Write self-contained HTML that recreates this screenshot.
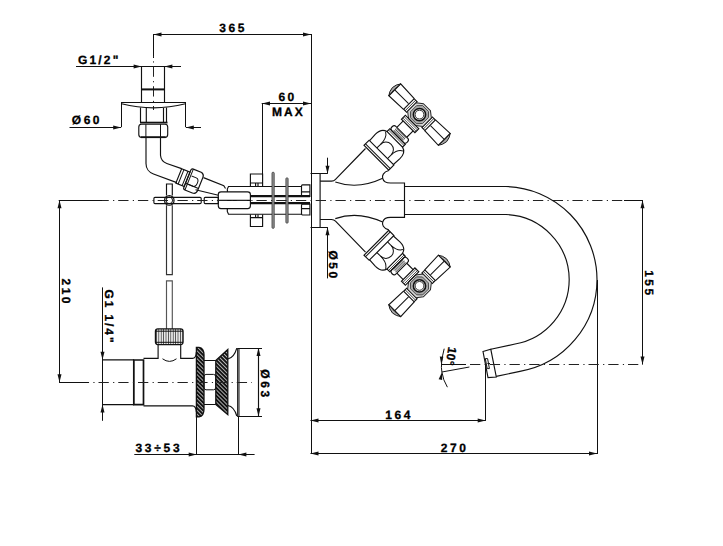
<!DOCTYPE html>
<html><head><meta charset="utf-8">
<style>
html,body{margin:0;padding:0;background:#fff;width:723px;height:546px;overflow:hidden}
svg{display:block}
text{font-family:"Liberation Sans",sans-serif;font-weight:bold;fill:#000;stroke:#000;stroke-width:0.3;text-rendering:geometricPrecision}
.dl{stroke:#111;stroke-width:1;fill:none}
.ol{stroke:#111;stroke-width:1.15;fill:none}
.cl{stroke:#222;stroke-width:1;fill:none;stroke-dasharray:10.3 4.3 1.2 3.95}
.ar{fill:#111;stroke:none}
</style></head><body>
<svg width="723" height="546" viewBox="0 0 723 546">
<line x1="153.5" y1="34.5" x2="311" y2="34.5" class="dl"/>
<path d="M153.50,34.50 L161.50,32.50 L161.50,36.50 Z" class="ar"/>
<path d="M311.00,34.50 L303.00,36.50 L303.00,32.50 Z" class="ar"/>
<line x1="153.5" y1="34" x2="153.5" y2="58" class="dl"/>
<line x1="311.5" y1="34" x2="311.5" y2="454" class="dl"/>
<text x="219.3" y="31.9" text-anchor="start" style="font-size:12px;letter-spacing:2.5px">365</text>
<line x1="261.7" y1="103.5" x2="311" y2="103.5" class="dl"/>
<path d="M262.00,103.50 L270.00,101.50 L270.00,105.50 Z" class="ar"/>
<path d="M311.00,103.50 L303.00,105.50 L303.00,101.50 Z" class="ar"/>
<line x1="262.5" y1="103.4" x2="262.5" y2="176" class="dl"/>
<text x="278.4" y="101.4" text-anchor="start" style="font-size:12px;letter-spacing:2.5px">60</text>
<text x="272" y="115.8" text-anchor="start" style="font-size:12px;letter-spacing:2.1px">MAX</text>
<line x1="76" y1="66.5" x2="181" y2="66.5" class="dl"/>
<path d="M141.60,66.50 L133.60,68.50 L133.60,64.50 Z" class="ar"/>
<path d="M164.40,66.50 L172.40,64.50 L172.40,68.50 Z" class="ar"/>
<text x="77.9" y="63.5" text-anchor="start" style="font-size:12px;letter-spacing:2.2px">G1/2"</text>
<line x1="69.5" y1="127.5" x2="121.2" y2="127.5" class="dl"/>
<path d="M121.20,127.50 L113.20,129.50 L113.20,125.50 Z" class="ar"/>
<line x1="185.8" y1="127.5" x2="201" y2="127.5" class="dl"/>
<path d="M185.80,127.50 L193.80,125.50 L193.80,129.50 Z" class="ar"/>
<line x1="121.5" y1="102" x2="121.5" y2="127" class="dl"/>
<line x1="185.5" y1="102" x2="185.5" y2="127" class="dl"/>
<text x="71.8" y="124.2" text-anchor="start" style="font-size:12px;letter-spacing:2.5px">Ø60</text>
<line x1="58.7" y1="200.5" x2="102" y2="200.5" class="dl"/>
<line x1="59.5" y1="200.3" x2="59.5" y2="382.2" class="dl"/>
<path d="M59.50,200.30 L61.50,208.30 L57.50,208.30 Z" class="ar"/>
<path d="M59.50,382.20 L57.50,374.20 L61.50,374.20 Z" class="ar"/>
<text x="0" y="0" text-anchor="start" transform="translate(61.9,278.5) rotate(90)" style="font-size:12px;letter-spacing:2.5px">210</text>
<line x1="102.5" y1="287.4" x2="102.5" y2="420.8" class="dl"/>
<path d="M102.50,359.80 L100.50,351.80 L104.50,351.80 Z" class="ar"/>
<path d="M102.50,404.60 L104.50,412.60 L100.50,412.60 Z" class="ar"/>
<text x="0" y="0" text-anchor="start" transform="translate(104.7,289.5) rotate(90)" style="font-size:12px;letter-spacing:1.9px">G1 1/4"</text>
<line x1="238" y1="348.5" x2="262" y2="348.5" class="dl"/>
<line x1="238" y1="416.5" x2="262" y2="416.5" class="dl"/>
<line x1="258.5" y1="348" x2="258.5" y2="416.2" class="dl"/>
<path d="M258.50,348.00 L260.50,356.00 L256.50,356.00 Z" class="ar"/>
<path d="M258.50,416.20 L256.50,408.20 L260.50,408.20 Z" class="ar"/>
<text x="0" y="0" text-anchor="start" transform="translate(261.2,369.2) rotate(90)" style="font-size:12px;letter-spacing:2.6px">Ø63</text>
<line x1="134.3" y1="454.5" x2="254.6" y2="454.5" class="dl"/>
<path d="M196.70,454.50 L188.70,456.50 L188.70,452.50 Z" class="ar"/>
<path d="M238.40,454.50 L246.40,452.50 L246.40,456.50 Z" class="ar"/>
<line x1="196.5" y1="416" x2="196.5" y2="454.6" class="dl"/>
<line x1="238.5" y1="416" x2="238.5" y2="454.6" class="dl"/>
<text x="135.5" y="452.4" text-anchor="start" style="font-size:12px;letter-spacing:2.7px">33÷53</text>
<line x1="320.1" y1="173.5" x2="327.6" y2="173.5" class="dl"/>
<line x1="327.5" y1="157.7" x2="327.5" y2="173.7" class="dl"/>
<path d="M327.50,173.70 L325.50,165.70 L329.50,165.70 Z" class="ar"/>
<line x1="320.1" y1="227.5" x2="327.6" y2="227.5" class="dl"/>
<line x1="327.5" y1="227.2" x2="327.5" y2="278.4" class="dl"/>
<path d="M327.50,227.20 L329.50,235.20 L325.50,235.20 Z" class="ar"/>
<text x="0" y="0" text-anchor="start" transform="translate(329.1,250.5) rotate(90)" style="font-size:12px;letter-spacing:2.5px">Ø50</text>
<line x1="642.5" y1="200.3" x2="642.5" y2="364.4" class="dl"/>
<path d="M642.50,200.30 L644.50,208.30 L640.50,208.30 Z" class="ar"/>
<path d="M642.50,364.40 L640.50,356.40 L644.50,356.40 Z" class="ar"/>
<text x="0" y="0" text-anchor="start" transform="translate(645.3,270.2) rotate(90)" style="font-size:12px;letter-spacing:2.5px">155</text>
<line x1="310.5" y1="420.5" x2="485.7" y2="420.5" class="dl"/>
<path d="M310.50,420.50 L318.50,418.50 L318.50,422.50 Z" class="ar"/>
<path d="M485.70,420.50 L477.70,422.50 L477.70,418.50 Z" class="ar"/>
<line x1="485.5" y1="364.4" x2="485.5" y2="420.9" class="dl"/>
<text x="385.3" y="418.6" text-anchor="start" style="font-size:12px;letter-spacing:2.5px">164</text>
<line x1="310.5" y1="453.5" x2="597" y2="453.5" class="dl"/>
<path d="M310.50,453.50 L318.50,451.50 L318.50,455.50 Z" class="ar"/>
<path d="M597.00,453.50 L589.00,455.50 L589.00,451.50 Z" class="ar"/>
<line x1="597.5" y1="280" x2="597.5" y2="454" class="dl"/>
<text x="440.8" y="451.5" text-anchor="start" style="font-size:12px;letter-spacing:2.5px">270</text>
<line x1="153.5" y1="56" x2="153.5" y2="110" class="cl" style="stroke-dashoffset:-10.5"/>
<path d="M141.5,66.5 L141.5,102 M164.5,66.5 L164.5,102" class="ol" />
<path d="M141.6,89.4 L164.4,89.4" class="ol" style="stroke-width:2"/>
<path d="M121.5,102.5 L185.5,102.5 M121.5,103.8 Q153.5,112 185.5,103.8" class="ol" />
<path d="M140.5,107.5 L140.5,122 M166.5,107.5 L166.5,122 M146.3,108 L146.3,122 M163.5,108 L163.5,122" class="ol" />
<path d="M140,122.6 L167.5,122.6" class="ol" style="stroke-width:1.8"/>
<path d="M141.5,124.2 L165,124.2 Q167.7,124.2 167.7,127 L167.7,134.6 Q167.7,137.4 165,137.4 L141.5,137.4 Q138.8,137.4 138.8,134.6 L138.8,127 Q138.8,124.2 141.5,124.2 Z" class="ol" />
<path d="M145.9,124.2 L145.9,137.4 M160.5,124.2 L160.5,137.4" class="dl" />
<path d="M146,137.4 L146,163.5 A11,11 0 0 0 153.5,174 L176.8,182.6" class="ol" />
<path d="M160.5,137.4 L160.5,155.3 A9.5,9.5 0 0 0 166.8,163.5 L181.6,168.6" class="ol" />
<path d="M203.5,177.6 L223.8,185.8 L225.5,188.5" class="ol" />
<path d="M195.5,189.7 L218.4,195.3" class="ol" />
<g transform="translate(187,179.5) rotate(22)">
<path d="M-9,-8 L0,-8 L0,7.5 L-9,7.5 Z" class="ol" />
<path d="M-6.5,-8 L-6.5,7.5 M-2.2,-8 L-2.2,7.5" class="dl" />
<path d="M2,-12 L11,-12 Q14,-11 14,-8 L14,6 Q14,10.5 10,10.5 L2,10.5 Q0,10.5 0,8.5 L0,-10 Q0,-12 2,-12 Z" class="ol" />
<path d="M2,-12 L2,10.5" class="dl" />
<path d="M3,-5 L8,-5 Q11,-5 11,-0.5 Q11,4 8,4 L3,4" class="dl" />
<path d="M0,4 L14,4" class="dl" />
</g>
<path d="M155,197.3 L200,197.3 Q201.2,197.3 201.2,198.5 L201.2,202.4 Q201.2,203.6 200,203.6 L155,203.6 Q153.9,203.6 153.9,202.4 L153.9,198.5 Q153.9,197.3 155,197.3 Z" class="ol" />
<path d="M205.2,197.3 L218.3,197.3 L218.3,203.6 L205.2,203.6 Q204.2,203.6 204.2,202.5 L204.2,198.4 Q204.2,197.3 205.2,197.3 Z" class="ol" />
<circle cx="169.3" cy="200.4" r="4.8" class="ol" fill="#fff"/>
<circle cx="169.3" cy="200.4" r="3.3" class="dl"/>
<path d="M166.5,195.6 L166.5,184 L172.3,184 L172.3,195.6" class="ol" />
<path d="M166.5,205.2 L166.5,274.6 L172.3,274.6 L172.3,205.2" class="ol" style="stroke:#333"/>
<path d="M166.5,329 L166.5,280.8 L172.3,280.8 L172.3,329" class="ol" style="stroke:#555"/>
<path d="M221,191.9 L247.6,191.9 Q250.4,191.9 250.4,194.5 L250.4,205.8 Q250.4,208.6 247.6,208.6 L221,208.6 Q218.3,208.6 218.3,205.8 L218.3,194.5 Q218.3,191.9 221,191.9 Z" class="ol" />
<path d="M218.3,200.3 L250.4,200.3" class="ol" />
<path d="M227.5,191.9 L227.3,189 L228.5,186.5 L302,186.5" class="ol" />
<path d="M227.3,208.6 L227.3,211.5 L228.5,214.2 L302,214.2" class="ol" />
<path d="M250.4,196.1 L310,196.1 M250.4,203.2 L310,203.2" class="ol" style="stroke-width:2.2"/>
<path d="M250.4,186.2 L250.4,174 L262.6,174 L262.6,186.2 M250.4,183 L262.6,183 M255.6,183 L255.6,186.2 M258,183 L258,186.2" class="ol" />
<path d="M250.4,214.4 L250.4,226.5 L262.6,226.5 L262.6,214.4 M250.4,217.6 L262.6,217.6 M255.6,214.4 L255.6,217.6 M258,214.4 L258,217.6" class="ol" />
<rect x="272" y="172.3" width="2.2" height="56" rx="0.8" fill="#999" stroke="#333" stroke-width="0.8"/>
<rect x="285.9" y="177.9" width="2.2" height="45.2" rx="0.8" fill="#999" stroke="#333" stroke-width="0.8"/>
<path d="M302.5,184.9 L309.9,184.9 L309.9,196.4 L302.5,196.4 Q301.5,196.4 301.5,195 L301.5,186.3 Q301.5,184.9 302.5,184.9 Z M301.5,191.9 L309.9,191.9" class="ol" />
<path d="M302.5,204.1 L309.9,204.1 L309.9,215 L302.5,215 Q301.5,215 301.5,213.6 L301.5,205.5 Q301.5,204.1 302.5,204.1 Z M301.5,208.6 L309.9,208.6" class="ol" />
<path d="M310.5,173.5 L320.1,173.5 L320.1,227.5 L310.5,227.5" class="ol" />
<line x1="102" y1="200.5" x2="643" y2="200.5" class="cl" style="stroke-dashoffset:3.55"/>
<path d="M320.1,181.1 L331.5,181.1 Q334,181.1 335.5,179.4 L365.5,148.5" class="ol" />
<path d="M335.3,182 Q358,190 382.7,178.3" class="ol" />
<path d="M388.8,170.5 C383,172 382,176 382.7,178.3 C383.5,182 386,183 390.5,183 L404.5,183 L404.5,217.4 L390.5,217.4 C386,217.4 383.5,218.6 382.7,222.1 C382,224.4 383,228.4 388.8,229.9" class="ol" />
<path d="M404.5,186.5 L506,186.5 M404.5,214.5 L506,214.5" class="ol" />
<path d="M320.1,219.5 L331.5,219.5 Q334,219.5 335.5,221.2 L365.5,252.1" class="ol" />
<path d="M335.3,218.6 Q358,210.6 382.7,222.1" class="ol" />
<path d="M506,186.5 A93.3,93.3 0 0 1 597.00,279.5 A93.3,93.3 0 0 1 519.90,371.38 L496.2,376.4" class="ol" />
<path d="M506,214.5 A65.5,65.5 0 0 1 569.20,279.5 A65.5,65.5 0 0 1 515.07,344.00 L490.8,349.3" class="ol" />
<path d="M483,351.5 L490.8,349.3 L496.3,377 L488,377.6 Z" class="ol" />
<path d="M485.3,358.6 L487.6,358.6 L489.4,368.6 L487.2,368.6 Z M487.4,363.5 L490,363.5" class="dl" />
<g transform="translate(419.5,114.6) rotate(45)">
<path d="M10.8,-7.4 L15,-7.4 L15,7.4 L10.8,7.4 Z" class="ol" />
<path d="M12.9,-7.4 L12.9,7.4" class="dl" style="stroke-width:0.8"/>
<path d="M15,-7.6 L35,-8.4 L35,8.4 L15,7.6" class="ol" />
<path d="M15.5,0 L35,0" class="dl" />
<path d="M35,-8.4 Q37.8,-5 38.3,0 Q37.8,5 35,8.4 Q36.2,0 35,-8.4 Z" fill="#aaa" stroke="#111" stroke-width="0.9"/>
<path d="M-10.8,-7.4 L-15,-7.4 L-15,7.4 L-10.8,7.4 Z" class="ol" />
<path d="M-12.9,-7.4 L-12.9,7.4" class="dl" style="stroke-width:0.8"/>
<path d="M-15,-7.6 L-35,-8.4 L-35,8.4 L-15,7.6" class="ol" />
<path d="M-15.5,0 L-35,0" class="dl" />
<path d="M-35,-8.4 Q-37.8,-5 -38.3,0 Q-37.8,5 -35,8.4 Q-36.2,0 -35,-8.4 Z" fill="#aaa" stroke="#111" stroke-width="0.9"/>
<path d="M-10.8,-6 L-5,-10.5 L5,-10.5 L10.8,-6 L10.8,6 L5,10.5 L-5,10.5 L-10.8,6 Z" fill="#d8d8d8" stroke="#222" stroke-width="1"/>
<path d="M-4.2,-8.6 L4.2,-8.6 L8.4,-4.2 L8.4,4.2 L4.2,8.6 L-4.2,8.6 L-8.4,4.2 L-8.4,-4.2 Z" fill="#aaa" stroke="#333" stroke-width="0.8"/>
<circle cx="0" cy="0" r="6.1" fill="#fff" stroke="#111" stroke-width="1.6"/>
<circle cx="0" cy="0" r="4.4" fill="#fff" stroke="#222" stroke-width="0.9"/>
<path d="M-9.5,10.5 L9.5,10.5 L9.5,16 L-9.5,16 Z" class="ol" />
<path d="M-9.5,12.3 L9.5,12.3 M-9.5,14.2 L9.5,14.2" class="dl" style="stroke-width:0.7"/>
<path d="M-7,16 L-7,25 M7,16 L7,25" class="ol" />
<path d="M-8.5,25 L8.5,25 Q10.8,25 10.8,28 Q10.8,31 8.5,31 L-8.5,31 Q-10.8,31 -10.8,28 Q-10.8,25 -8.5,25 Z" fill="#fff" stroke="#111" stroke-width="1.1"/>
<path d="M-7,26.3 L7,26.3 M-7,27.5 L7,27.5 M-7,28.7 L7,28.7 M-7,29.8 L7,29.8" stroke="#222" stroke-width="0.7" fill="none"/>
<path d="M-11,31 L11,31 L11,35 L-11,35 Z" class="ol" />
<path d="M-11,32.8 L11,32.8" class="dl" style="stroke-width:0.7"/>
<path d="M-11,35 Q-17.3,36.5 -17.3,45 L-16.8,53.7 M11,35 Q17.3,36.5 17.3,45 L16.8,53.7" class="ol" />
<path d="M-6.5,53.7 L-6.5,48.5 A7.5,7.5 0 0 1 8.5,48.5 L8.5,53.7" class="dl" />
<path d="M-6.5,48.5 Q-6.5,39 -12,36 M8.5,48.5 Q9,40 14,37.5" class="dl" />
<path d="M-17.5,53.7 L17.5,53.7 L17.5,61 L-17.5,61 Z" class="ol" />
<path d="M-17.5,58.8 L17.5,58.8" class="dl" />
</g>
<g transform="translate(419.5,285.9) scale(1,-1) rotate(45)">
<path d="M10.8,-7.4 L15,-7.4 L15,7.4 L10.8,7.4 Z" class="ol" />
<path d="M12.9,-7.4 L12.9,7.4" class="dl" style="stroke-width:0.8"/>
<path d="M15,-7.6 L35,-8.4 L35,8.4 L15,7.6" class="ol" />
<path d="M15.5,0 L35,0" class="dl" />
<path d="M35,-8.4 Q37.8,-5 38.3,0 Q37.8,5 35,8.4 Q36.2,0 35,-8.4 Z" fill="#aaa" stroke="#111" stroke-width="0.9"/>
<path d="M-10.8,-7.4 L-15,-7.4 L-15,7.4 L-10.8,7.4 Z" class="ol" />
<path d="M-12.9,-7.4 L-12.9,7.4" class="dl" style="stroke-width:0.8"/>
<path d="M-15,-7.6 L-35,-8.4 L-35,8.4 L-15,7.6" class="ol" />
<path d="M-15.5,0 L-35,0" class="dl" />
<path d="M-35,-8.4 Q-37.8,-5 -38.3,0 Q-37.8,5 -35,8.4 Q-36.2,0 -35,-8.4 Z" fill="#aaa" stroke="#111" stroke-width="0.9"/>
<path d="M-10.8,-6 L-5,-10.5 L5,-10.5 L10.8,-6 L10.8,6 L5,10.5 L-5,10.5 L-10.8,6 Z" fill="#d8d8d8" stroke="#222" stroke-width="1"/>
<path d="M-4.2,-8.6 L4.2,-8.6 L8.4,-4.2 L8.4,4.2 L4.2,8.6 L-4.2,8.6 L-8.4,4.2 L-8.4,-4.2 Z" fill="#aaa" stroke="#333" stroke-width="0.8"/>
<circle cx="0" cy="0" r="6.1" fill="#fff" stroke="#111" stroke-width="1.6"/>
<circle cx="0" cy="0" r="4.4" fill="#fff" stroke="#222" stroke-width="0.9"/>
<path d="M-9.5,10.5 L9.5,10.5 L9.5,16 L-9.5,16 Z" class="ol" />
<path d="M-9.5,12.3 L9.5,12.3 M-9.5,14.2 L9.5,14.2" class="dl" style="stroke-width:0.7"/>
<path d="M-7,16 L-7,25 M7,16 L7,25" class="ol" />
<path d="M-8.5,25 L8.5,25 Q10.8,25 10.8,28 Q10.8,31 8.5,31 L-8.5,31 Q-10.8,31 -10.8,28 Q-10.8,25 -8.5,25 Z" fill="#fff" stroke="#111" stroke-width="1.1"/>
<path d="M-7,26.3 L7,26.3 M-7,27.5 L7,27.5 M-7,28.7 L7,28.7 M-7,29.8 L7,29.8" stroke="#222" stroke-width="0.7" fill="none"/>
<path d="M-11,31 L11,31 L11,35 L-11,35 Z" class="ol" />
<path d="M-11,32.8 L11,32.8" class="dl" style="stroke-width:0.7"/>
<path d="M-11,35 Q-17.3,36.5 -17.3,45 L-16.8,53.7 M11,35 Q17.3,36.5 17.3,45 L16.8,53.7" class="ol" />
<path d="M-6.5,53.7 L-6.5,48.5 A7.5,7.5 0 0 1 8.5,48.5 L8.5,53.7" class="dl" />
<path d="M-6.5,48.5 Q-6.5,39 -12,36 M8.5,48.5 Q9,40 14,37.5" class="dl" />
<path d="M-17.5,53.7 L17.5,53.7 L17.5,61 L-17.5,61 Z" class="ol" />
<path d="M-17.5,58.8 L17.5,58.8" class="dl" />
</g>
<defs><pattern id="hatch" patternUnits="userSpaceOnUse" width="2.8" height="2.8" patternTransform="rotate(45)"><rect width="2.8" height="2.8" fill="#fff"/><rect width="2.8" height="2.15" fill="#111"/></pattern><pattern id="knurl" patternUnits="userSpaceOnUse" width="2.4" height="20"><rect width="2.4" height="20" fill="#e8e8e8"/><rect width="0.8" height="20" fill="#444"/></pattern></defs>
<path d="M102.5,359.8 L133.6,359.8 L133.6,404.6 L102.5,404.6" class="ol" />
<path d="M133.8,360 L143.5,360 L143.5,404.6 L133.8,404.6 Z" class="ol" style="stroke-width:1.7"/>
<path d="M143.5,358.4 L158.1,358.4 L158.1,344.6 M180.7,344.6 L180.7,358.4 L192.5,358.4 Q196,358.4 196.4,352" class="ol" />
<path d="M143.5,405.9 L192.5,405.9 Q196,405.9 196.4,412" class="ol" />
<path d="M162.5,358.8 Q169.5,364 176.5,358.8" class="dl" />
<rect x="155.4" y="328.9" width="27.7" height="15.7" rx="2.5" fill="url(#knurl)" stroke="#111" stroke-width="1.2"/>
<path d="M155.6,331.2 L183,331.2 M155.6,342.3 L183,342.3" class="dl" />
<path d="M196.4,347.3 L199,347.3 Q204,348 204,355 L204,409 Q204,416.2 199,416.9 L196.4,416.9 Z" fill="url(#hatch)" stroke="#111" stroke-width="1.3"/>
<path d="M204,360.5 L215.8,360.5 M204,404.5 L215.8,404.5" class="ol" />
<path d="M206,374.4 L213.5,374.4 Q215.8,374.4 215.8,377 L215.8,387.2 Q215.8,389.8 213.5,389.8 L206,389.8 Q204,389.8 204,387.2 L204,377 Q204,374.4 206,374.4 Z" class="dl" />
<path d="M215.8,360.5 L227.8,349.5 L227.8,414.7 L215.8,404.5 Z" fill="url(#hatch)" stroke="#111" stroke-width="1.3"/>
<path d="M227.8,359 Q234,358 236.8,348.2 M227.8,405.5 Q234,406.5 236.8,416" class="ol" />
<path d="M237.7,348.5 L258.5,348.5 L258.5,416.5 L237.7,416.5 Z" class="ol" />
<path d="M239,348 L239,416.2" class="dl" />
<line x1="59" y1="382.5" x2="252" y2="382.5" class="cl"/>
<path d="M444.2,348.7 Q440.2,364 441.9,372 Q443,380 447.4,387.2" class="dl" />
<path d="M441.20,364.20 L439.78,356.62 L443.37,356.80 Z" class="ar"/>
<path d="M441.90,372.20 L442.19,379.91 L438.66,379.20 Z" class="ar"/>
<line x1="441.2" y1="364.5" x2="466" y2="364.5" class="dl"/>
<line x1="470" y1="364.5" x2="643" y2="364.5" class="cl"/>
<line x1="441.9" y1="372" x2="469.4" y2="367" class="dl"/>
<text x="0" y="0" text-anchor="start" transform="translate(448.6,346.5) rotate(100)" style="font-size:12px;letter-spacing:0px">10°</text>
<line x1="624" y1="200.5" x2="643" y2="200.5" class="dl"/>
<line x1="59" y1="382.5" x2="88.7" y2="382.5" class="dl"/>
<path d="M141,137.2 L165.5,137.2" class="ol" style="stroke-width:1.8"/>
</svg>
</body></html>
